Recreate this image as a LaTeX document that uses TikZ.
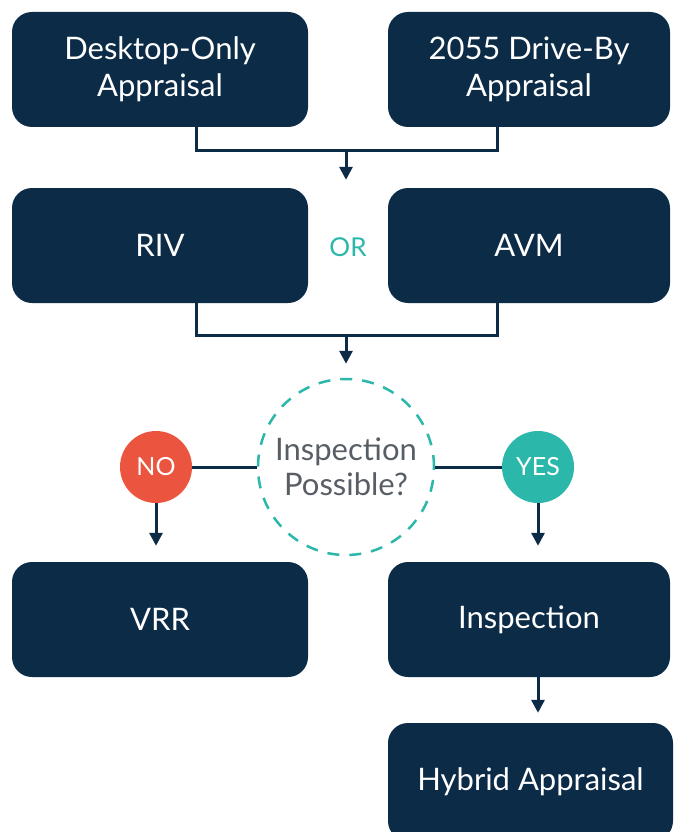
\documentclass[tikz,border=0pt]{standalone}
\usepackage{fontspec}
\setmainfont{Lato}
\usetikzlibrary{arrows.meta}
\definecolor{navy}{HTML}{0B2B47}
\definecolor{tealc}{HTML}{2BB7A9}
\definecolor{coral}{HTML}{EB5540}
\definecolor{greytext}{HTML}{585E66}
\begin{document}
\begin{tikzpicture}[x=1pt,y=-1pt,
  box/.style={fill=navy, rounded corners=20pt, text=white, align=center,
    font=\fontsize{31}{37}\selectfont, inner sep=0pt, minimum height=115pt},
  lbox/.style={box, minimum width=296pt},
  rbox/.style={box, minimum width=282pt},
  conn/.style={draw=navy, line width=3pt},
  arr/.style={conn, -{Triangle[width=13pt,length=13pt]}},
  badge/.style={circle, minimum size=72pt, inner sep=0pt, text=white,
    font=\fontsize{25}{28}\selectfont}]
\useasboundingbox (0,0) rectangle (673,832);
\clip (0,0) rectangle (673,832);
\fill[white] (0,0) rectangle (673,832);

\node[lbox] (d1) at (160,69.5) {Desktop-Only\\Appraisal};
\node[rbox] (d2) at (529,69.5) {2055 Drive-By\\Appraisal};
\node[lbox] (riv) at (160,245.5) {RIV};
\node[rbox] (avm) at (529,245.5) {AVM};
\node[text=tealc, font=\fontsize{26}{28}\selectfont] (or) at (348,247) {OR};

\coordinate (j1) at (346,150);
\coordinate (j2) at (346,335);
\draw[conn] ([xshift=36pt]d1.south) |- (j1) -| ([xshift=-32pt]d2.south);
\draw[arr, shorten >=8pt] (j1) -- (j1 |- riv.north);
\draw[conn] ([xshift=36pt]riv.south) |- (j2) -| ([xshift=-32pt]avm.south);

\node[circle, draw=tealc, line width=2.5pt, dash pattern=on 12pt off 10pt,
  minimum size=176pt, inner sep=0pt, align=center, text=greytext,
  font=\fontsize{31}{35}\selectfont] (q) at (346,467) {Inspection\\Possible?};
\draw[arr, shorten >=14pt] (j2) -- (q.north);

\node[badge, fill=coral] (no) at (156,467) {NO};
\node[badge, fill=tealc] (yes) at (538,467) {YES};
\draw[conn] (no) -- (q);
\draw[conn] (q) -- (yes);

\node[lbox] (vrr) at (160,619.5) {VRR};
\node[rbox] (insp) at (529,619.5) {Inspection};
\node[box, minimum width=285pt, minimum height=118pt] (hyb) at (530.5,782) {Hybrid Appraisal};

\draw[arr, shorten >=16pt] (no.south) -- (no.south |- vrr.north);
\draw[arr, shorten >=16pt] (yes.south) -- (yes.south |- insp.north);
\draw[arr, shorten >=10pt] (insp.south -| yes) -- (hyb.north -| yes);
\end{tikzpicture}
\end{document}
